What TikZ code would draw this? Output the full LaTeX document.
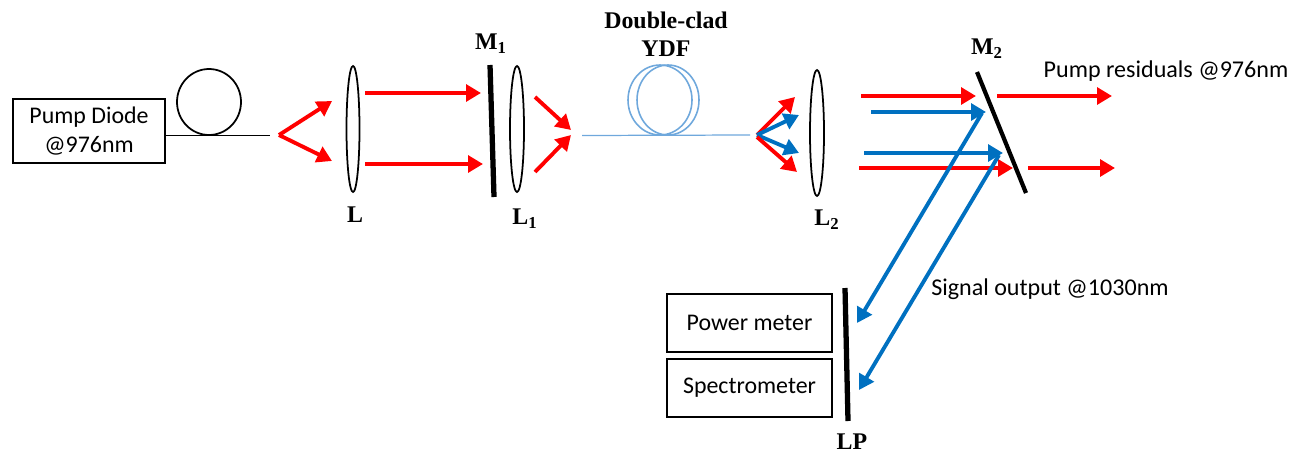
\documentclass[tikz,border=0pt]{standalone}
\usepackage{fontspec}
\setmainfont{Carlito}
\newfontfamily\partfont{Liberation Serif}
\usetikzlibrary{arrows.meta}
\tikzset{
	redbeam/.style={line width=2.2pt, color=red, -{Triangle[length=8.5pt,width=9.5pt]}},
	bluebeam/.style={line width=2.2pt, color=beamblue, -{Triangle[length=8.5pt,width=9.5pt]}},
	devicebox/.style={draw, line width=1.1pt, align=center, minimum height=33.5pt, font=\fontsize{13.6}{17}\selectfont},
	partlabel/.style={align=center, font=\fontsize{13.6}{16}\selectfont\partfont\bfseries},
	plainlabel/.style={font=\fontsize{13.7}{15}\selectfont},
	lens/.style={line width=1pt}
}
\definecolor{beamblue}{HTML}{0070C0}
\definecolor{fiberblue}{HTML}{6FA8DC}
\begin{document}
\begin{tikzpicture}[x=0.02cm, y=-0.02cm]
	%%%%% START %%%%%
	\useasboundingbox (0, 0) rectangle (1300, 453);

	\node[devicebox, minimum width=87pt, minimum height=36pt] (diode) at (89, 131) {\raisebox{-1pt}{Pump Diode}\\\raisebox{-1pt}{@976nm}};
	\draw[lens] (209, 102) ellipse (32 and 33);
	\coordinate (fiberend) at (270, 135);
	\draw[line width=0.5pt] (diode.east |- 0, 135) -- (fiberend);

	\draw[redbeam] (279, 135) -- (332, 101);
	\draw[redbeam] (279, 135) -- (332, 161);
	\draw[lens] (353, 129) ellipse (6.5 and 63);
	\node[partlabel] (lensL) at (355, 215) {L};

	\draw[redbeam] (365, 93) -- (481, 93);
	\draw[redbeam] (365, 164) -- (483, 164);
	\draw[line width=3pt] (490, 65) -- (494, 197);
	\node[partlabel] (mirrorA) at (491, 44) {M\textsubscript{1}};
	\draw[lens] (517, 129) ellipse (7 and 63);
	\node[partlabel] (lensA) at (525, 219) {L\textsubscript{1}};

	\draw[redbeam] (535, 97) -- (571, 130);
	\draw[redbeam] (535, 172) -- (571, 135);

	\draw[line width=0.7pt, color=fiberblue] (582, 135.5) -- (750, 135);
	\draw[line width=0.9pt, color=fiberblue] (660, 100) ellipse (32 and 35);
	\draw[line width=0.9pt, color=fiberblue] (668, 100) ellipse (31 and 35);
	\node[partlabel] (ydf) at (666, 34) {Double-clad\\YDF};

	\draw[redbeam] (757, 135) -- (795, 97);
	\draw[bluebeam] (757, 135) -- (799, 115);
	\draw[bluebeam] (757, 135) -- (799, 153);
	\draw[redbeam] (757, 137) -- (797, 172);
	\draw[lens] (817, 133) ellipse (7 and 63);
	\node[partlabel] (lensB) at (827, 220) {L\textsubscript{2}};

	\draw[redbeam] (861, 96) -- (976, 96);
	\draw[bluebeam] (871, 112) -- (986, 112);
	\draw[bluebeam] (864, 153) -- (1003, 153);
	\draw[redbeam] (859, 168) -- (1013, 168);
	\draw[line width=2.4pt] (977, 72) -- (1026, 193);
	\node[partlabel] (mirrorB) at (987, 49) {M\textsubscript{2}};
	\draw[redbeam] (997, 96) -- (1112, 96);
	\draw[redbeam] (1028, 168) -- (1115, 168);
	\node[plainlabel] (pumpres) at (1166, 71) {Pump residuals @976nm};

	\draw[bluebeam] (982, 113) -- (857, 323);
	\draw[bluebeam] (999, 155) -- (859, 390);
	\node[plainlabel] (signal) at (1050, 289) {Signal output @1030nm};

	\node[devicebox, minimum width=93.5pt] (power) at (749.5, 323) {\raisebox{-1pt}{Power meter}};
	\node[devicebox, minimum width=93.5pt] (spectro) at (749.5, 388) {\raisebox{-1pt}{Spectrometer}};
	\draw[line width=3pt] (845, 288) -- (848, 421);
	\node[partlabel] (lp) at (852, 442) {LP};
	%%%%% END %%%%%
\end{tikzpicture}
\end{document}
